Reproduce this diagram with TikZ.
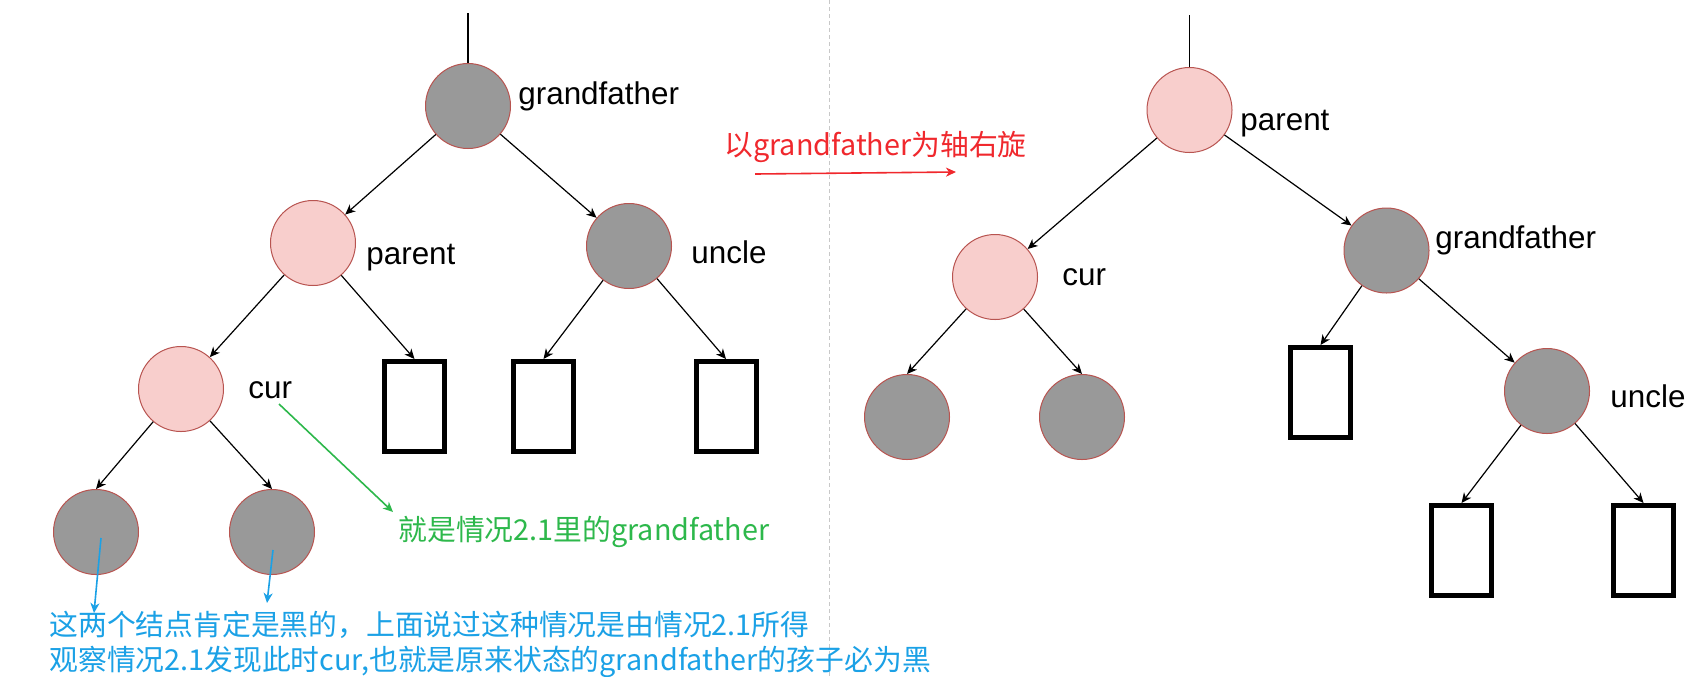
\documentclass[tikz,border=0pt]{standalone}
\usepackage{fontspec}
\setmainfont{Liberation Sans}
\newfontfamily\cjk{Noto Sans CJK SC}
\usetikzlibrary{arrows.meta}
\definecolor{redfill}{HTML}{F8CECC}
\definecolor{redline}{HTML}{B85450}
\definecolor{grayfill}{HTML}{999999}
\definecolor{noteblue}{HTML}{1BA1E6}
\definecolor{notegreen}{HTML}{2DB84B}
\definecolor{notered}{HTML}{F0282D}
\definecolor{sepgray}{HTML}{C8C8C8}
\begin{document}
\begin{tikzpicture}[x=0.5pt,y=-0.5pt,
  rednode/.style={circle, fill=redfill, draw=redline, line width=0.5pt, minimum size=42.5pt, inner sep=0pt},
  blacknode/.style={circle, fill=grayfill, draw=redline, line width=0.5pt, minimum size=42.5pt, inner sep=0pt},
  nilbox/.style={rectangle, draw=black, line width=2.5pt, minimum width=30pt, minimum height=45pt, inner sep=0pt},
  treeedge/.style={-{Stealth[length=5pt,width=4.5pt,inset=1.5pt]}, line width=0.6pt},
  topline/.style={line width=0.75pt},
  lbl/.style={anchor=base west, inner sep=0pt, font=\fontsize{15.7}{18}\selectfont},
  note/.style={anchor=base west, inner sep=0pt, font=\cjk\fontsize{14.4}{17}\selectfont},
  notearrow/.style={-{Stealth[length=5pt,width=4.5pt,inset=1.5pt]}, line width=0.8pt}
]
\useasboundingbox (0,0) rectangle (1700,676);
\fill[white] (0,0) rectangle (1700,676);

% separator
\draw[sepgray, line width=0.5pt, dash pattern=on 2pt off 1.5pt] (829,0) -- (829,676);

% ---------- left tree ----------
\node[blacknode] (gfL) at (468,106) {};
\node[rednode] (parL) at (313,243) {};
\node[blacknode] (uncL) at (629,246) {};
\node[rednode] (curL) at (181,389) {};
\node[blacknode] (c1L) at (96,532) {};
\node[blacknode] (c2L) at (272,532) {};
\node[nilbox] (n1L) at (414.5,406.5) {};
\node[nilbox] (n2L) at (543.5,406.5) {};
\node[nilbox] (n3L) at (726,406.5) {};

\coordinate (topL) at (468,13);
\draw[topline] (topL) -- (gfL.north);

\draw[treeedge] (gfL) -- (parL);
\draw[treeedge] (gfL) -- (uncL);
\draw[treeedge] (parL) -- (curL);
\draw[treeedge] (parL) -- (n1L.north);
\draw[treeedge] (uncL) -- (n2L.north);
\draw[treeedge] (uncL) -- (n3L.north);
\draw[treeedge] (curL) -- (c1L.north);
\draw[treeedge] (curL) -- (c2L.north);

\node[lbl] (lgfL) at (518,104) {grandfather};
\node[lbl] (lparL) at (366,264) {parent};
\node[lbl] (luncL) at (691,263) {uncle};
\node[lbl] (lcurL) at (248,398) {cur};

% ---------- right tree ----------
\node[rednode] (parR) at (1189.5,110) {};
\node[rednode] (curR) at (995,277) {};
\node[blacknode] (gfR) at (1386.5,250.5) {};
\node[blacknode] (c1R) at (907,417) {};
\node[blacknode] (c2R) at (1082,417) {};
\node[nilbox] (n1R) at (1320.5,392.5) {};
\node[blacknode] (uncR) at (1547,391) {};
\node[nilbox] (n2R) at (1461.5,550.5) {};
\node[nilbox] (n3R) at (1643.5,550.5) {};

\coordinate (topR) at (1189.5,15);
\draw[topline] (topR) -- (parR.north);

\draw[treeedge] (parR) -- (curR);
\draw[treeedge] (parR) -- (gfR);
\draw[treeedge] (curR) -- (c1R.north);
\draw[treeedge] (curR) -- (c2R.north);
\draw[treeedge] (gfR) -- (n1R.north);
\draw[treeedge] (gfR) -- (uncR);
\draw[treeedge] (uncR) -- (n2R.north);
\draw[treeedge] (uncR) -- (n3R.north);

\node[lbl] (lparR) at (1240,130) {parent};
\node[lbl] (lcurR) at (1062,285) {cur};
\node[lbl] (lgfR) at (1435,248) {grandfather};
\node[lbl] (luncR) at (1610,407) {uncle};

% ---------- notes ----------
\node[note, text=notered] (rot) at (724,155) {以grandfather为轴右旋};
\coordinate (rotA) at (755,174);
\coordinate (rotB) at (956,172);
\draw[notearrow, notered] (rotA) -- (rotB);

\node[note, text=notegreen] (gnote) at (398,540) {就是情况2.1里的grandfather};
\coordinate (gA) at (279,404);
\coordinate (gB) at (393,512);
\draw[notearrow, notegreen] (gA) -- (gB);

\node[note, text=noteblue] (b1) at (49,635) {这两个结点肯定是黑的，上面说过这种情况是由情况2.1所得};
\node[note, text=noteblue] (b2) at (49,670) {观察情况2.1发现此时cur,也就是原来状态的grandfather的孩子必为黑};
\coordinate (bA1) at (101,538);
\coordinate (bB1) at (94,613);
\coordinate (bA2) at (273,550);
\coordinate (bB2) at (267,603);
\draw[notearrow, noteblue] (bA1) -- (bB1);
\draw[notearrow, noteblue] (bA2) -- (bB2);
\end{tikzpicture}
\end{document}
